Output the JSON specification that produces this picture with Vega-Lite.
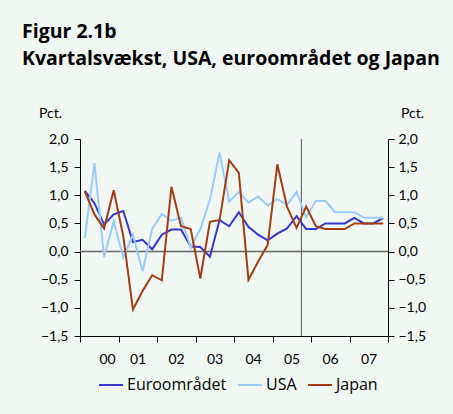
{
  "$schema": "https://vega.github.io/schema/vega-lite/v6.json",
  "autosize": "none",
  "width": 308,
  "height": 197,
  "padding": {"left": 80, "top": 139, "right": 65, "bottom": 78},
  "background": "#f1f8f4",
  "title": {
    "text": "Figur 2.1b",
    "subtitle": "Kvartalsvækst, USA, euroområdet og Japan",
    "anchor": "start",
    "frame": "group",
    "dx": -58,
    "offset": 37,
    "font": "Open Sans",
    "fontSize": 19.5,
    "fontWeight": "bold",
    "color": "#000000",
    "subtitleFont": "Open Sans",
    "subtitleFontSize": 19.5,
    "subtitleFontWeight": "bold",
    "subtitleColor": "#000000",
    "subtitlePadding": 7
  },
  "config": {
    "view": {"stroke": null},
    "font": "Lato",
    "axis": {
      "grid": false,
      "domainColor": "#000000",
      "tickColor": "#000000",
      "labelColor": "#000000",
      "titleColor": "#000000",
      "labelFont": "Lato",
      "labelFontSize": 14,
      "titleFont": "Lato",
      "titleFontSize": 14,
      "titleFontWeight": "normal",
      "tickSize": 6,
      "domainWidth": 1,
      "tickWidth": 1,
      "labelOverlap": false
    },
    "legend": {
      "labelFont": "Open Sans",
      "labelFontSize": 16,
      "labelColor": "#000000"
    }
  },
  "layer": [
    {
      "data": {"values": [{"v": 0}]},
      "mark": {"type": "rule", "color": "#666666", "strokeWidth": 1.5},
      "encoding": {
        "y": {
          "field": "v",
          "type": "quantitative",
          "scale": {"domain": [-1.5, 2.0], "nice": false, "zero": false},
          "axis": {
            "orient": "right",
            "values": [-1.5, -1.0, -0.5, 0.0, 0.5, 1.0, 1.5, 2.0],
            "labelExpr": "replace(format(datum.value, '.1f'), '.', ',')",
            "labelPadding": 4,
            "title": "Pct.",
            "titleAngle": 0,
            "titleAlign": "center",
            "titleBaseline": "middle",
            "titleX": 24,
            "titleY": -26
          }
        }
      }
    },
    {
      "data": {"values": [{"t": 2005.75}]},
      "mark": {"type": "rule", "color": "#555555", "strokeWidth": 1},
      "encoding": {
        "x": {
          "field": "t",
          "type": "quantitative",
          "scale": {"domain": [2000, 2008], "nice": false, "zero": false},
          "axis": {
            "values": [2000, 2001, 2002, 2003, 2004, 2005, 2006, 2007, 2008],
            "labelExpr": "datum.value >= 2008 ? '' : substring(toString(datum.value), 2, 4)",
            "labelOffset": 19,
            "labelPadding": 10,
            "labelOverlap": false,
            "title": null
          }
        }
      }
    },
    {
      "data": {
        "values": [
          {"t": 2000.125, "serie": "Euroområdet", "v": 1.08},
          {"t": 2000.375, "serie": "Euroområdet", "v": 0.86},
          {"t": 2000.625, "serie": "Euroområdet", "v": 0.48},
          {"t": 2000.875, "serie": "Euroområdet", "v": 0.66},
          {"t": 2001.125, "serie": "Euroområdet", "v": 0.72},
          {"t": 2001.375, "serie": "Euroområdet", "v": 0.17},
          {"t": 2001.625, "serie": "Euroområdet", "v": 0.21},
          {"t": 2001.875, "serie": "Euroområdet", "v": 0.04},
          {"t": 2002.125, "serie": "Euroområdet", "v": 0.30},
          {"t": 2002.375, "serie": "Euroområdet", "v": 0.39},
          {"t": 2002.625, "serie": "Euroområdet", "v": 0.39},
          {"t": 2002.875, "serie": "Euroområdet", "v": 0.09},
          {"t": 2003.125, "serie": "Euroområdet", "v": 0.08},
          {"t": 2003.375, "serie": "Euroområdet", "v": -0.09},
          {"t": 2003.625, "serie": "Euroområdet", "v": 0.56},
          {"t": 2003.875, "serie": "Euroområdet", "v": 0.45},
          {"t": 2004.125, "serie": "Euroområdet", "v": 0.70},
          {"t": 2004.375, "serie": "Euroområdet", "v": 0.44},
          {"t": 2004.625, "serie": "Euroområdet", "v": 0.30},
          {"t": 2004.875, "serie": "Euroområdet", "v": 0.20},
          {"t": 2005.125, "serie": "Euroområdet", "v": 0.32},
          {"t": 2005.375, "serie": "Euroområdet", "v": 0.41},
          {"t": 2005.625, "serie": "Euroområdet", "v": 0.63},
          {"t": 2005.875, "serie": "Euroområdet", "v": 0.40},
          {"t": 2006.125, "serie": "Euroområdet", "v": 0.40},
          {"t": 2006.375, "serie": "Euroområdet", "v": 0.50},
          {"t": 2006.625, "serie": "Euroområdet", "v": 0.50},
          {"t": 2006.875, "serie": "Euroområdet", "v": 0.50},
          {"t": 2007.125, "serie": "Euroområdet", "v": 0.60},
          {"t": 2007.375, "serie": "Euroområdet", "v": 0.50},
          {"t": 2007.625, "serie": "Euroområdet", "v": 0.50},
          {"t": 2007.875, "serie": "Euroområdet", "v": 0.60},
          {"t": 2000.125, "serie": "USA", "v": 0.24},
          {"t": 2000.375, "serie": "USA", "v": 1.57},
          {"t": 2000.625, "serie": "USA", "v": -0.10},
          {"t": 2000.875, "serie": "USA", "v": 0.54},
          {"t": 2001.125, "serie": "USA", "v": -0.11},
          {"t": 2001.375, "serie": "USA", "v": 0.30},
          {"t": 2001.625, "serie": "USA", "v": -0.35},
          {"t": 2001.875, "serie": "USA", "v": 0.40},
          {"t": 2002.125, "serie": "USA", "v": 0.67},
          {"t": 2002.375, "serie": "USA", "v": 0.55},
          {"t": 2002.625, "serie": "USA", "v": 0.60},
          {"t": 2002.875, "serie": "USA", "v": 0.07},
          {"t": 2003.125, "serie": "USA", "v": 0.40},
          {"t": 2003.375, "serie": "USA", "v": 0.92},
          {"t": 2003.625, "serie": "USA", "v": 1.76},
          {"t": 2003.875, "serie": "USA", "v": 0.89},
          {"t": 2004.125, "serie": "USA", "v": 1.06},
          {"t": 2004.375, "serie": "USA", "v": 0.87},
          {"t": 2004.625, "serie": "USA", "v": 0.98},
          {"t": 2004.875, "serie": "USA", "v": 0.82},
          {"t": 2005.125, "serie": "USA", "v": 0.93},
          {"t": 2005.375, "serie": "USA", "v": 0.83},
          {"t": 2005.625, "serie": "USA", "v": 1.06},
          {"t": 2005.875, "serie": "USA", "v": 0.61},
          {"t": 2006.125, "serie": "USA", "v": 0.90},
          {"t": 2006.375, "serie": "USA", "v": 0.90},
          {"t": 2006.625, "serie": "USA", "v": 0.70},
          {"t": 2006.875, "serie": "USA", "v": 0.70},
          {"t": 2007.125, "serie": "USA", "v": 0.70},
          {"t": 2007.375, "serie": "USA", "v": 0.60},
          {"t": 2007.625, "serie": "USA", "v": 0.60},
          {"t": 2007.875, "serie": "USA", "v": 0.60},
          {"t": 2000.125, "serie": "Japan", "v": 1.07},
          {"t": 2000.375, "serie": "Japan", "v": 0.66},
          {"t": 2000.625, "serie": "Japan", "v": 0.41},
          {"t": 2000.875, "serie": "Japan", "v": 1.09},
          {"t": 2001.125, "serie": "Japan", "v": 0.27},
          {"t": 2001.375, "serie": "Japan", "v": -1.03},
          {"t": 2001.625, "serie": "Japan", "v": -0.70},
          {"t": 2001.875, "serie": "Japan", "v": -0.42},
          {"t": 2002.125, "serie": "Japan", "v": -0.51},
          {"t": 2002.375, "serie": "Japan", "v": 1.15},
          {"t": 2002.625, "serie": "Japan", "v": 0.45},
          {"t": 2002.875, "serie": "Japan", "v": 0.40},
          {"t": 2003.125, "serie": "Japan", "v": -0.48},
          {"t": 2003.375, "serie": "Japan", "v": 0.53},
          {"t": 2003.625, "serie": "Japan", "v": 0.56},
          {"t": 2003.875, "serie": "Japan", "v": 1.62},
          {"t": 2004.125, "serie": "Japan", "v": 1.40},
          {"t": 2004.375, "serie": "Japan", "v": -0.50},
          {"t": 2004.625, "serie": "Japan", "v": -0.18},
          {"t": 2004.875, "serie": "Japan", "v": 0.12},
          {"t": 2005.125, "serie": "Japan", "v": 1.55},
          {"t": 2005.375, "serie": "Japan", "v": 0.80},
          {"t": 2005.625, "serie": "Japan", "v": 0.42},
          {"t": 2005.875, "serie": "Japan", "v": 0.80},
          {"t": 2006.125, "serie": "Japan", "v": 0.45},
          {"t": 2006.375, "serie": "Japan", "v": 0.40},
          {"t": 2006.625, "serie": "Japan", "v": 0.40},
          {"t": 2006.875, "serie": "Japan", "v": 0.40},
          {"t": 2007.125, "serie": "Japan", "v": 0.50},
          {"t": 2007.375, "serie": "Japan", "v": 0.50},
          {"t": 2007.625, "serie": "Japan", "v": 0.50},
          {"t": 2007.875, "serie": "Japan", "v": 0.50}
        ]
      },
      "mark": {"type": "line", "strokeWidth": 2},
      "encoding": {
        "x": {
          "field": "t",
          "type": "quantitative",
          "scale": {"domain": [2000, 2008], "nice": false, "zero": false},
          "axis": {
            "values": [2000, 2001, 2002, 2003, 2004, 2005, 2006, 2007, 2008],
            "labelExpr": "datum.value >= 2008 ? '' : substring(toString(datum.value), 2, 4)",
            "labelOffset": 19,
            "labelPadding": 10,
            "labelOverlap": false,
            "title": null
          }
        },
        "y": {
          "field": "v",
          "type": "quantitative",
          "scale": {"domain": [-1.5, 2.0], "nice": false, "zero": false},
          "axis": {
            "orient": "left",
            "values": [-1.5, -1.0, -0.5, 0.0, 0.5, 1.0, 1.5, 2.0],
            "labelExpr": "replace(format(datum.value, '.1f'), '.', ',')",
            "labelPadding": 6,
            "title": "Pct.",
            "titleAngle": 0,
            "titleAlign": "center",
            "titleBaseline": "middle",
            "titleX": -30,
            "titleY": -26
          }
        },
        "color": {
          "field": "serie",
          "type": "nominal",
          "scale": {
            "domain": ["Euroområdet", "USA", "Japan"],
            "range": ["#3535d0", "#9ccbff", "#a33c10"]
          },
          "legend": {
            "orient": "none",
            "legendX": 18,
            "legendY": 233,
            "direction": "horizontal",
            "title": null,
            "symbolType": "stroke",
            "symbolStrokeWidth": 2,
            "symbolSize": 576,
            "columnPadding": 7,
            "labelOffset": 3
          }
        }
      }
    }
  ],
  "resolve": {"axis": {"y": "independent"}}
}
